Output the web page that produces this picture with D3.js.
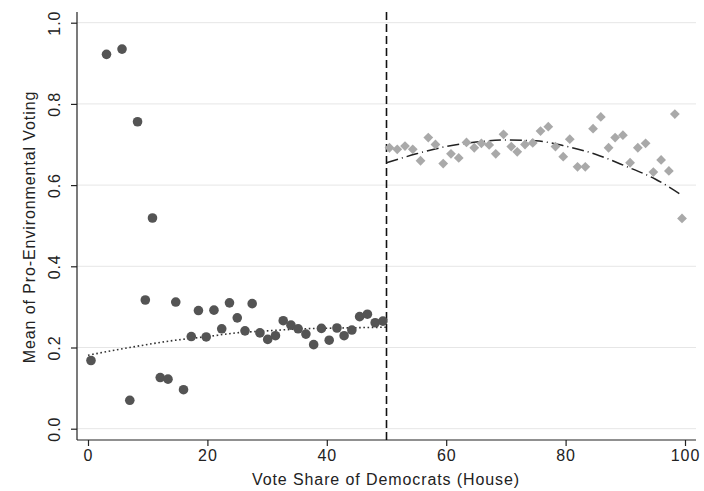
<!DOCTYPE html>
<html>
<head>
<meta charset="utf-8">
<script src="https://cdn.jsdelivr.net/npm/d3@7"></script>
<style>
  html, body { margin: 0; padding: 0; background: #fff; }
  svg { display: block; }
  text { font-family: "Liberation Sans", Arial, Helvetica, sans-serif; fill: #222; }
</style>
</head>
<body>
<svg id="chart" width="704" height="491"></svg>
<script>
// ---- data ----
const leftX = [0.5, 3.1, 5.7, 7.0, 8.3, 9.6, 10.8, 12.1, 13.4, 14.7, 16.0, 17.3, 18.5, 19.8, 21.1, 22.4, 23.7, 25.0, 26.3, 27.5, 28.8, 30.1, 31.4, 32.7, 34.0, 35.2, 36.5, 37.8, 39.1, 40.4, 41.7, 42.9, 44.2, 45.5, 46.8, 48.1, 49.4];
const leftY = [0.168, 0.922, 0.935, 0.070, 0.756, 0.317, 0.519, 0.126, 0.122, 0.312, 0.096, 0.227, 0.291, 0.226, 0.292, 0.246, 0.310, 0.273, 0.241, 0.308, 0.236, 0.220, 0.229, 0.266, 0.255, 0.246, 0.233, 0.207, 0.247, 0.218, 0.248, 0.229, 0.243, 0.276, 0.282, 0.261, 0.265];

const rightX = [50.5, 51.8, 53.1, 54.4, 55.7, 57.0, 58.2, 59.5, 60.8, 62.1, 63.4, 64.7, 65.9, 67.2, 68.3, 69.6, 70.9, 71.9, 73.2, 74.5, 75.8, 77.1, 78.3, 79.6, 80.7, 82.0, 83.3, 84.6, 85.9, 87.2, 88.3, 89.6, 90.8, 92.1, 93.4, 94.7, 96.0, 97.3, 98.3, 99.5];
const rightY = [0.692, 0.688, 0.696, 0.688, 0.660, 0.717, 0.700, 0.653, 0.677, 0.667, 0.705, 0.692, 0.703, 0.699, 0.677, 0.725, 0.695, 0.682, 0.700, 0.704, 0.733, 0.744, 0.695, 0.670, 0.713, 0.645, 0.645, 0.739, 0.768, 0.692, 0.717, 0.723, 0.655, 0.692, 0.703, 0.632, 0.662, 0.635, 0.775, 0.518];

// fitted curves
const leftFitX = [0, 7, 13.7, 20, 24.9, 30, 36, 42, 50];
const leftFitY = [0.181, 0.200, 0.216, 0.227, 0.236, 0.241, 0.246, 0.248, 0.250];
const rightFitX = [50, 55, 60, 65, 70, 75, 80, 85, 90, 95, 99.5];
const rightFitY = [0.655, 0.677, 0.695, 0.706, 0.711, 0.709, 0.696, 0.676, 0.647, 0.615, 0.575];

const cutoff = 50;
const xTicks = [0, 20, 40, 60, 80, 100];
const yTicks = [0.0, 0.2, 0.4, 0.6, 0.8, 1.0];
const xTitle = "Vote Share of Democrats (House)";
const yTitle = "Mean of Pro-Environmental Voting";

// ---- drawing ----
const svg = d3.select("#chart");
const x = d3.scaleLinear().domain([0, 100]).range([88, 685]);
const y = d3.scaleLinear().domain([0, 1]).range([428.7, 22.7]);
const axisX0 = 77, axisY0 = 440, plotRight = 696, plotTop = 12;
const fs = 16, ls = "0.9px";

// gridlines
svg.append("g").selectAll("line").data(yTicks).join("line")
  .attr("x1", axisX0).attr("x2", plotRight)
  .attr("y1", d => y(d)).attr("y2", d => y(d))
  .attr("stroke", "#e6e6e6").attr("stroke-width", 1);

// y axis
const yAxis = svg.append("g").attr("transform", `translate(${axisX0},0)`)
  .call(d3.axisLeft(y).tickValues(yTicks).tickFormat(d3.format(".1f")).tickSize(6).tickPadding(3));
yAxis.select(".domain").attr("d", `M0,${plotTop}V${axisY0}`).attr("stroke", "#222").attr("stroke-width", 1.2);
yAxis.selectAll(".tick line").attr("stroke", "#222").attr("stroke-width", 1.2);
yAxis.selectAll(".tick text")
  .attr("font-size", fs).style("letter-spacing", ls)
  .attr("text-anchor", "middle")
  .attr("transform", "rotate(-90)")
  .attr("x", 0).attr("y", -17).attr("dy", 0)
  .attr("fill", "#222");

// x axis
const xAxis = svg.append("g").attr("transform", `translate(0,${axisY0})`)
  .call(d3.axisBottom(x).tickValues(xTicks).tickFormat(d3.format("d")).tickSize(6).tickPadding(4));
xAxis.select(".domain").attr("d", `M${axisX0},0H${plotRight}`).attr("stroke", "#222").attr("stroke-width", 1.2);
xAxis.selectAll(".tick line").attr("stroke", "#222").attr("stroke-width", 1.2);
xAxis.selectAll(".tick text").attr("font-size", fs).style("letter-spacing", ls).attr("fill", "#222");

// titles
svg.append("text").attr("x", 386).attr("y", 485).attr("text-anchor", "middle")
  .attr("font-size", fs).style("letter-spacing", ls).text(xTitle);
svg.append("text").attr("transform", "translate(35,227) rotate(-90)")
  .attr("text-anchor", "middle").attr("font-size", fs).style("letter-spacing", ls).text(yTitle);

// cutoff line
svg.append("line")
  .attr("x1", x(cutoff)).attr("x2", x(cutoff))
  .attr("y1", plotTop).attr("y2", axisY0)
  .attr("stroke", "#111").attr("stroke-width", 1.6)
  .attr("stroke-dasharray", "8,4");

// fit lines
const line = d3.line().x(d => x(d[0])).y(d => y(d[1])).curve(d3.curveMonotoneX);
svg.append("path").datum(d3.zip(leftFitX, leftFitY))
  .attr("d", line).attr("fill", "none").attr("stroke", "#333")
  .attr("stroke-width", 1.6).attr("stroke-dasharray", "1.6,2.6");
svg.append("path").datum(d3.zip(rightFitX, rightFitY))
  .attr("d", line).attr("fill", "none").attr("stroke", "#222")
  .attr("stroke-width", 1.5).attr("stroke-dasharray", "12,4,1,4");

// left points: dark circles
svg.append("g").selectAll("circle").data(d3.zip(leftX, leftY)).join("circle")
  .attr("cx", d => x(d[0])).attr("cy", d => y(d[1])).attr("r", 4.8)
  .attr("fill", "#545454");

// right points: light grey diamonds
const diamond = d3.symbol().type(d3.symbolSquare).size(48);
svg.append("g").selectAll("path").data(d3.zip(rightX, rightY)).join("path")
  .attr("d", diamond)
  .attr("transform", d => `translate(${x(d[0])},${y(d[1])}) rotate(45)`)
  .attr("fill", "#a9a9a9");
</script>
</body>
</html>
